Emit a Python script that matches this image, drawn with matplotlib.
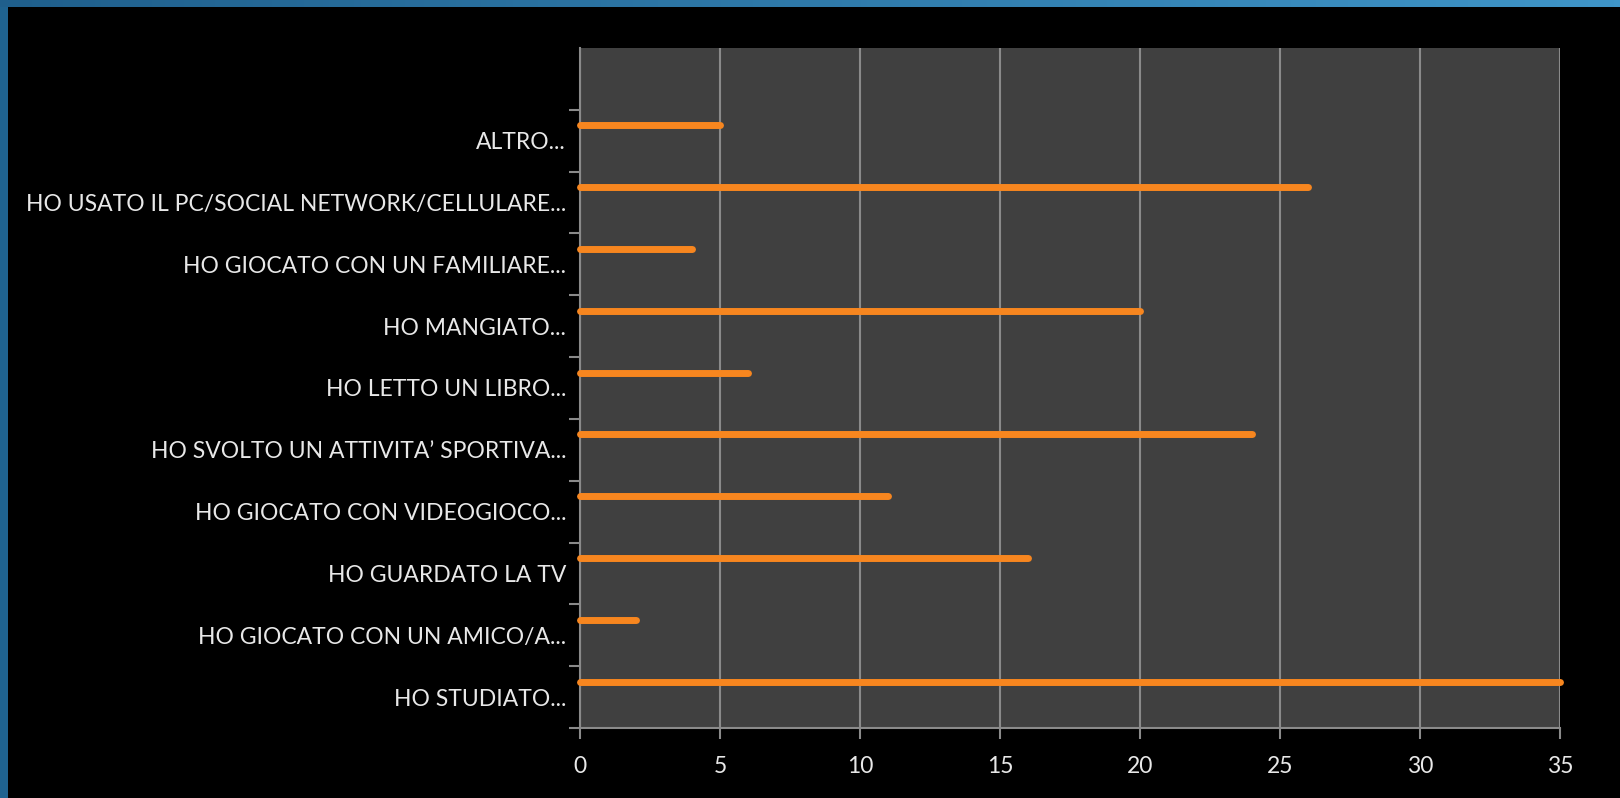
import numpy as np
import matplotlib
matplotlib.use("Agg")
import matplotlib.pyplot as plt
from matplotlib.ticker import FixedLocator, NullFormatter

plt.rcParams['font.family'] = ['Lato', 'DejaVu Sans']

# data (bottom to top)
categories = ["HO STUDIATO...", "HO GIOCATO CON UN AMICO/A...", "HO GUARDATO LA TV",
              "HO GIOCATO CON VIDEOGIOCO...", "HO SVOLTO UN ATTIVITA\u2019 SPORTIVA...",
              "HO LETTO UN LIBRO...", "HO MANGIATO...", "HO GIOCATO CON UN FAMILIARE...",
              "HO USATO IL PC/SOCIAL NETWORK/CELLULARE...", "ALTRO..."]
values = [35, 2, 16, 11, 24, 6, 20, 4, 26, 5]
xticks = [0, 5, 10, 15, 20, 25, 30, 35]

fig = plt.figure(figsize=(16.2, 7.98), dpi=100, facecolor="black")

# blue frame strips (top and left)
top = fig.add_axes([0, 1 - 7 / 798, 1, 7 / 798])
top.imshow(np.linspace(0, 1, 256)[None, :], aspect="auto", extent=[0, 1, 0, 1],
           cmap=matplotlib.colors.LinearSegmentedColormap.from_list("b", ["#1f5f8c", "#3f95c8"]))
top.axis("off")
left = fig.add_axes([0, 0, 8 / 1620, 1 - 7 / 798])
left.set_facecolor("#1f6390")
left.set_xticks([]); left.set_yticks([])
for s in left.spines.values():
    s.set_visible(False)

ax = fig.add_axes([580 / 1620, 70 / 798, (1560 - 580) / 1620, (728 - 48) / 798])
ax.set_facecolor("#404040")

n = len(categories)
y = np.arange(n)
ax.hlines(y + 0.25, 0, values, colors="#f7861f", linewidth=5, capstyle="round",
          zorder=3, clip_on=False)

ax.set_xlim(0, 35)
ax.set_ylim(-0.5, n + 0.5)
ax.set_xticks(xticks)
ax.set_xticklabels([str(v) for v in xticks], fontsize=16.5, color="#e8e8e8")
ax.xaxis.grid(True, color="#8a8a8a", linewidth=1.5)
ax.set_axisbelow(True)

ax.set_yticks(y)
ax.set_yticklabels(categories, fontsize=16.5, color="#e8e8e8")
ax.yaxis.set_minor_locator(FixedLocator(np.arange(n + 1) - 0.5))
ax.yaxis.set_minor_formatter(NullFormatter())
ax.tick_params(axis="y", which="major", length=0, pad=10)
ax.tick_params(axis="y", which="minor", length=8, width=1.5, color="#8a8a8a")
ax.tick_params(axis="x", length=8, width=1.5, color="#8a8a8a", pad=12)

for side in ["top", "right"]:
    ax.spines[side].set_visible(False)
for side in ["left", "bottom"]:
    ax.spines[side].set_color("#8a8a8a")
    ax.spines[side].set_linewidth(1.5)

fig.savefig("out.png", dpi=100, facecolor="black")
